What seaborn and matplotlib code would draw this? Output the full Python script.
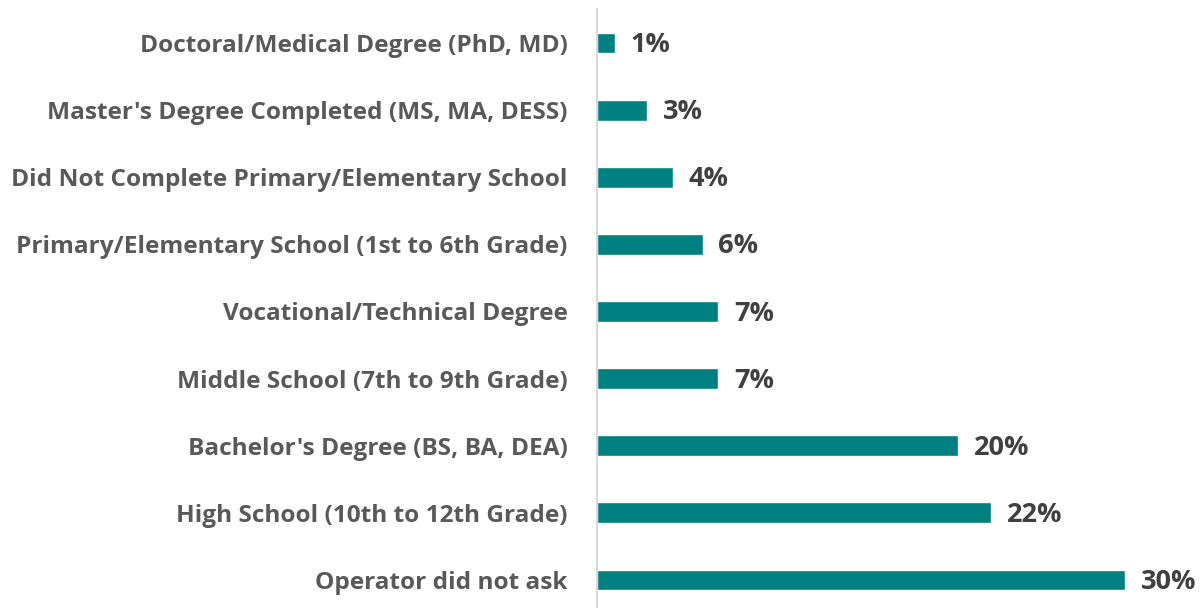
import matplotlib
matplotlib.use("Agg")
import matplotlib.pyplot as plt
import seaborn as sns
import pandas as pd

# ---------------------------
# Data
# ---------------------------
categories = [
    "Doctoral/Medical Degree (PhD, MD)",
    "Master's Degree Completed (MS, MA, DESS)",
    "Did Not Complete Primary/Elementary School",
    "Primary/Elementary School (1st to 6th Grade)",
    "Vocational/Technical Degree",
    "Middle School (7th to 9th Grade)",
    "Bachelor's Degree (BS, BA, DEA)",
    "High School (10th to 12th Grade)",
    "Operator did not ask",
]
values = [1.0, 2.85, 4.3, 6.0, 6.9, 6.9, 20.5, 22.4, 30.0]
value_labels = ["1%", "3%", "4%", "6%", "7%", "7%", "20%", "22%", "30%"]

df = pd.DataFrame({"category": categories, "value": values})

sns.set_theme(style="white")
plt.rcParams["font.family"] = ["Open Sans", "DejaVu Sans"]

fig = plt.figure(figsize=(12, 6.08), dpi=100)
ax = fig.add_axes([597 / 1200, -5.5 / 608, 603 / 1200, 604 / 608])

sns.barplot(data=df, x="value", y="category", color="#008080", saturation=1,
            width=0.31, ax=ax)

ax.set_xlim(0, 603 / 17.6)
ax.set_ylim(8.5, -0.5)
ax.set_xlabel("")
ax.set_ylabel("")
ax.set_xticks([])
ax.tick_params(axis="y", length=0, pad=21)
for lbl in ax.get_yticklabels():
    lbl.set_fontsize(17.6)
    lbl.set_fontweight("bold")
    lbl.set_color("#595959")

for sp in ["top", "right", "bottom"]:
    ax.spines[sp].set_visible(False)
ax.spines["left"].set_color("#d9d9d9")
ax.spines["left"].set_linewidth(1.5)

for i, (v, t) in enumerate(zip(values, value_labels)):
    ax.text(v + 0.9, i + 0.03, t, va="center", ha="left", fontsize=19.5,
            fontweight="bold", color="#404040")

fig.savefig("out.png", dpi=100)
